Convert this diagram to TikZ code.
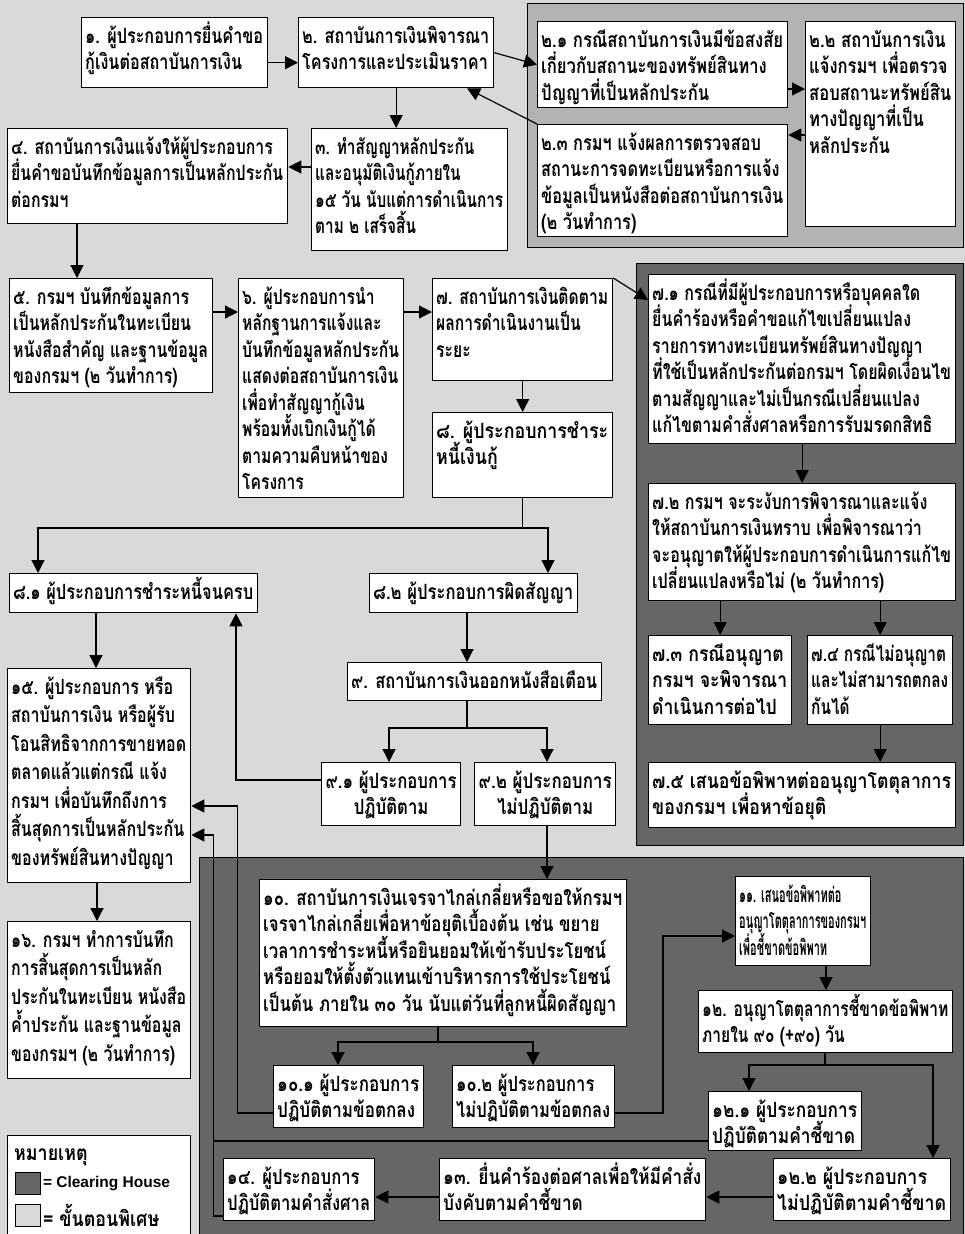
\documentclass[tikz,border=0pt]{standalone}
\usepackage{fontspec}
\usepackage{graphicx}
\usetikzlibrary{arrows.meta,calc}
\newfontfamily\thf[Script=Thai,FakeStretch=0.85]{Loma}
\newfontfamily\lsans{Liberation Sans}
\definecolor{bgc}{HTML}{D9D9D9}
\definecolor{midg}{HTML}{B3B3B3}
\definecolor{darkg}{HTML}{666666}
\newsavebox\tbox
\def\tbskip{26.5pt}
\def\tbase{26}
\newcommand\fitt[3]{%
  \sbox\tbox{\let\\\cr\vtop{\baselineskip=\tbskip\lineskiplimit=-\maxdimen\lineskip=0pt
    \halign{#2##\hfil\cr#3\crcr}}}%
  \pgfmathsetmacro\tw{#1}%
  \ifdim\wd\tbox>\tw pt\relax
    \pgfmathsetmacro\sx{\tw/\the\wd\tbox}%
    \scalebox{\sx}[1]{\usebox\tbox}%
  \else\usebox\tbox\fi}
\newcommand\bx[7][l]{%
  \node[bxs, minimum width=#5pt, minimum height=#6pt, anchor=north west] (#2) at (#3,#4) {};
  \if#1c
    \node[txt, anchor=base] (#2t) at ($(#2.north)+(0,\tbase)$) {\fitt{#5-8}{\hfil}{#7}};
  \else
    \node[txt, anchor=base west] (#2t) at ($(#2.north west)+(4,\tbase)$) {\fitt{#5-8}{}{#7}};
  \fi}
\begin{document}
\begin{tikzpicture}[x=1pt,y=-1pt,
  bxs/.style={draw=black, fill=white, line width=1.3pt, inner sep=0pt, rectangle},
  txt/.style={inner sep=0pt, font=\thf\bfseries\fontsize{21}{26}\selectfont},
  arr/.style={-{Triangle[length=13pt,width=13pt]}, line width=1.2pt},
  ln/.style={line width=1.2pt},
  reg/.style={draw=black, line width=1pt}]
\useasboundingbox (0,0) rectangle (965,1234);
\fill[bgc] (0,0) rectangle (965,1234);
% regions
\draw[reg, fill=midg] (527,3) rectangle (963,247);
\draw[reg, fill=darkg] (636,263) rectangle (963,845);
\draw[reg, fill=darkg] (199,857) rectangle (963,1240);
% boxes
\bx{b1}{81}{17}{186}{70}{๑. ผู้ประกอบการยื่นคำขอ\\กู้เงินต่อสถาบันการเงิน}
\bx{b2}{298}{17}{195}{70}{๒. สถาบันการเงินพิจารณา\\โครงการและประเมินราคา}
\bx{b21}{537}{21}{250}{86}{๒.๑ กรณีสถาบันการเงินมีข้อสงสัย\\เกี่ยวกับสถานะของทรัพย์สินทาง\\ปัญญาที่เป็นหลักประกัน}
\bx{b22}{805}{21}{150}{205}{๒.๒ สถาบันการเงิน\\แจ้งกรมฯ เพื่อตรวจ\\สอบสถานะทรัพย์สิน\\ทางปัญญาที่เป็น\\หลักประกัน}
\bx{b23}{537}{124}{250}{112}{๒.๓ กรมฯ แจ้งผลการตรวจสอบ\\สถานะการจดทะเบียนหรือการแจ้ง\\ข้อมูลเป็นหนังสือต่อสถาบันการเงิน\\(๒ วันทำการ)}
\bx{b4}{7}{128}{280}{95}{๔. สถาบันการเงินแจ้งให้ผู้ประกอบการ\\ยื่นคำขอบันทึกข้อมูลการเป็นหลักประกัน\\ต่อกรมฯ}
\bx{b3}{311}{128}{196}{122}{๓. ทำสัญญาหลักประกัน\\และอนุมัติเงินกู้ภายใน\\๑๕ วัน นับแต่การดำเนินการ\\ตาม ๒ เสร็จสิ้น}
\bx{b5}{9}{278}{203}{114}{๕. กรมฯ บันทึกข้อมูลการ\\เป็นหลักประกันในทะเบียน\\หนังสือสำคัญ และฐานข้อมูล\\ของกรมฯ (๒ วันทำการ)}
\bx{b6}{238}{278}{165}{219}{๖. ผู้ประกอบการนำ\\หลักฐานการแจ้งและ\\บันทึกข้อมูลหลักประกัน\\แสดงต่อสถาบันการเงิน\\เพื่อทำสัญญากู้เงิน\\พร้อมทั้งเบิกเงินกู้ได้\\ตามความคืบหน้าของ\\โครงการ}
\bx{b7}{432}{278}{180}{102}{๗. สถาบันการเงินติดตาม\\ผลการดำเนินงานเป็น\\ระยะ}
\bx{b8}{432}{412}{180}{85}{๘. ผู้ประกอบการชำระ\\หนี้เงินกู้}
\bx{b71}{648}{274}{307}{169}{๗.๑ กรณีที่มีผู้ประกอบการหรือบุคคลใด\\ยื่นคำร้องหรือคำขอแก้ไขเปลี่ยนแปลง\\รายการทางทะเบียนทรัพย์สินทางปัญญา\\ที่ใช้เป็นหลักประกันต่อกรมฯ โดยผิดเงื่อนไข\\ตามสัญญาและไม่เป็นกรณีเปลี่ยนแปลง\\แก้ไขตามคำสั่งศาลหรือการรับมรดกสิทธิ}
\bx{b72}{648}{483}{307}{117}{๗.๒ กรมฯ จะระงับการพิจารณาและแจ้ง\\ให้สถาบันการเงินทราบ เพื่อพิจารณาว่า\\จะอนุญาตให้ผู้ประกอบการดำเนินการแก้ไข\\เปลี่ยนแปลงหรือไม่ (๒ วันทำการ)}
\bx{b73}{648}{635}{143}{89}{๗.๓ กรณีอนุญาต\\กรมฯ จะพิจารณา\\ดำเนินการต่อไป}
\bx{b74}{807}{635}{145}{89}{๗.๔ กรณีไม่อนุญาต\\และไม่สามารถตกลง\\กันได้}
\bx{b75}{648}{762}{307}{65}{๗.๕ เสนอข้อพิพาทต่ออนุญาโตตุลาการ\\ของกรมฯ เพื่อหาข้อยุติ}
\bx{b81}{9}{573}{248}{39}{๘.๑ ผู้ประกอบการชำระหนี้จนครบ}
\bx{b82}{369}{573}{208}{39}{๘.๒ ผู้ประกอบการผิดสัญญา}
\bx{b9}{347}{662}{254}{38}{๙. สถาบันการเงินออกหนังสือเตือน}
\bx[c]{b91}{321}{762}{139}{63}{๙.๑ ผู้ประกอบการ\\ปฏิบัติตาม}
\bx[c]{b92}{474}{762}{141}{63}{๙.๒ ผู้ประกอบการ\\ไม่ปฏิบัติตาม}
\def\tbskip{28.5pt}
\bx{b15}{7}{668}{183}{214}{๑๕. ผู้ประกอบการ หรือ\\สถาบันการเงิน หรือผู้รับ\\โอนสิทธิจากการขายทอด\\ตลาดแล้วแต่กรณี แจ้ง\\กรมฯ เพื่อบันทึกถึงการ\\สิ้นสุดการเป็นหลักประกัน\\ของทรัพย์สินทางปัญญา}
\bx{b16}{7}{921}{183}{157}{๑๖. กรมฯ ทำการบันทึก\\การสิ้นสุดการเป็นหลัก\\ประกันในทะเบียน หนังสือ\\ค้ำประกัน และฐานข้อมูล\\ของกรมฯ (๒ วันทำการ)}
\def\tbskip{26.5pt}
\bx{b10}{259}{879}{367}{147}{๑๐. สถาบันการเงินเจรจาไกล่เกลี่ยหรือขอให้กรมฯ\\เจรจาไกล่เกลี่ยเพื่อหาข้อยุติเบื้องต้น เช่น ขยาย\\เวลาการชำระหนี้หรือยินยอมให้เข้ารับประโยชน์\\หรือยอมให้ตั้งตัวแทนเข้าบริหารการใช้ประโยชน์\\เป็นต้น ภายใน ๓๐ วัน นับแต่วันที่ลูกหนี้ผิดสัญญา}
\bx{b101}{273}{1065}{150}{62}{๑๐.๑ ผู้ประกอบการ\\ปฏิบัติตามข้อตกลง}
\bx{b102}{452}{1065}{162}{62}{๑๐.๒ ผู้ประกอบการ\\ไม่ปฏิบัติตามข้อตกลง}
\bx{b11}{735}{876}{135}{89}{๑๑. เสนอข้อพิพาทต่อ\\อนุญาโตตุลาการของกรมฯ\\เพื่อชี้ขาดข้อพิพาท}
\bx{b12}{698}{990}{254}{62}{๑๒. อนุญาโตตุลาการชี้ขาดข้อพิพาท\\ภายใน ๙๐ (+๙๐) วัน}
\bx{b121}{708}{1091}{153}{59}{๑๒.๑ ผู้ประกอบการ\\ปฏิบัติตามคำชี้ขาด}
\bx{b122}{773}{1158}{177}{62}{๑๒.๒ ผู้ประกอบการ\\ไม่ปฏิบัติตามคำชี้ขาด}
\bx{b13}{439}{1158}{266}{62}{๑๓. ยื่นคำร้องต่อศาลเพื่อให้มีคำสั่ง\\บังคับตามคำชี้ขาด}
\bx{b14}{223}{1158}{151}{62}{๑๔. ผู้ประกอบการ\\ปฏิบัติตามคำสั่งศาล}
% legend
\node[bxs, anchor=north west, minimum width=183pt, minimum height=110pt] (leg) at (7,1135) {};
\node[txt, anchor=base west] (legh) at (14,1160) {หมายเหตุ};
\node[draw=black, line width=0.8pt, fill=darkg, minimum width=25pt, minimum height=22pt, inner sep=0pt, anchor=north west] (sw1) at (15,1172) {};
\node[font=\lsans\bfseries\fontsize{15.5}{18}\selectfont, anchor=west, inner sep=2pt] (sw1t) at (sw1.east) {= Clearing House};
\node[draw=black, line width=0.8pt, fill=bgc, minimum width=25pt, minimum height=22pt, inner sep=0pt, anchor=north west] (sw2) at (15,1204) {};
\node[txt, anchor=west, inner sep=2pt] (sw2t) at (sw2.east) {= ขั้นตอนพิเศษ};
% connectors
\draw[arr] ([yshift=-10pt]b1.east) -- ([yshift=-10pt]b2.west);
\draw[arr] (b2.south) -- (b2.south |- b3.north);
\draw[arr] (b2.east) -- (b21.west);
\coordinate (a23) at ($(b2.south west)+(169,0)$);
\draw[arr] (b23.north west) -- (a23);
\coordinate (c21) at ($(b21.north east)+(0,68)$);
\draw[arr] (c21) -- (c21 -| b22.west);
\coordinate (c23) at ($(b23.north east)+(0,11)$);
\draw[arr] (c23 -| b22.west) -- (c23);
\coordinate (c34) at ($(b4.north east)+(0,39)$);
\draw[arr] (c34 -| b3.west) -- (c34);
\coordinate (c45) at ($(b4.south west)+(70,0)$);
\draw[arr] (c45) -- (c45 |- b5.north);
\coordinate (c56) at ($(b5.north east)+(0,34)$);
\draw[arr] (c56) -- (c56 -| b6.west);
\coordinate (c67) at ($(b6.north east)+(0,34)$);
\draw[arr] (c67) -- (c67 -| b7.west);
\draw[arr] (b7.south) -- (b8.north);
\draw[arr] (b7.north east) -- ($(b71.north west)+(0,26)$);
\draw[arr] (b71.south) -- (b71.south |- b72.north);
\draw[arr] (b73.north |- b72.south) -- (b73.north);
\draw[arr] (b74.north |- b72.south) -- (b74.north);
\draw[arr] (b74.south) -- (b74.south |- b75.north);
\coordinate (c8l) at ($(b81.north west)+(29,-45)$);
\coordinate (c8r) at ($(b82.north west)+(179,-45)$);
\draw[arr] (b8.south) |- (c8l) -- (c8l |- b81.north);
\draw[arr] (b8.south) |- (c8r) -- (c8r |- b82.north);
\coordinate (c89) at ($(b82.south west)+(98,0)$);
\draw[arr] (c89) -- (c89 |- b9.north);
\coordinate (c9) at ($(b9.south west)+(120,0)$);
\coordinate (c9l) at ($(b91.north west)+(68,-34)$);
\coordinate (c9r) at ($(b92.north west)+(73,-34)$);
\draw[arr] (c9) |- (c9l) -- (c9l |- b91.north);
\draw[arr] (c9) |- (c9r) -- (c9r |- b92.north);
\coordinate (c918) at ($(b81.south west)+(227,0)$);
\draw[arr] ($(b91.north west)+(0,18)$) -| (c918);
\coordinate (c815) at ($(b81.south west)+(87,0)$);
\draw[arr] (c815) -- (c815 |- b15.north);
\coordinate (c1516) at ($(b15.south west)+(90,0)$);
\draw[arr] (c1516) -- (c1516 |- b16.north);
\coordinate (c910) at ($(b92.south west)+(73,0)$);
\draw[arr] (c910) -- (c910 |- b10.north);
\coordinate (c10) at ($(b10.south west)+(179,0)$);
\coordinate (c10l) at ($(b101.north west)+(65,-23)$);
\coordinate (c10r) at ($(b102.north west)+(81,-23)$);
\draw[arr] (c10) |- (c10l) -- (c10l |- b101.north);
\draw[arr] (c10) |- (c10r) -- (c10r |- b102.north);
\coordinate (j1) at ($(b15.north east)+(46,138)$);
\draw[arr] ($(b101.north west)+(0,48)$) -| (j1) -- (j1 -| b15.east);
\coordinate (j2) at ($(b11.north west)+(-72,60)$);
\draw[arr] ($(b102.north east)+(0,48)$) -| (j2) -- (j2 -| b11.west);
\coordinate (c1112) at ($(b11.south west)+(91,0)$);
\draw[arr] (c1112) -- (c1112 |- b12.north);
\coordinate (c12) at ($(b12.south west)+(127,0)$);
\coordinate (c12l) at ($(b121.north west)+(41,-26)$);
\coordinate (c12r) at ($(b122.north west)+(160,-93)$);
\draw[arr] (c12) |- (c12l) -- (c12l |- b121.north);
\draw[arr] (c12) |- (c12r) -- (c12r |- b122.north);
\coordinate (j3) at ($(b15.north east)+(22,167)$);
\draw[arr] ($(b121.north west)+(0,50)$) -| (j3) -- (j3 -| b15.east);
\draw[ln] ($(b14.north west)+(0,58)$) -| (j3);
\coordinate (c1213) at ($(b122.north west)+(0,39)$);
\draw[arr] (c1213) -- (c1213 -| b13.east);
\coordinate (c1314) at ($(b13.north west)+(0,39)$);
\draw[arr] (c1314) -- (c1314 -| b14.east);
\end{tikzpicture}
\end{document}
